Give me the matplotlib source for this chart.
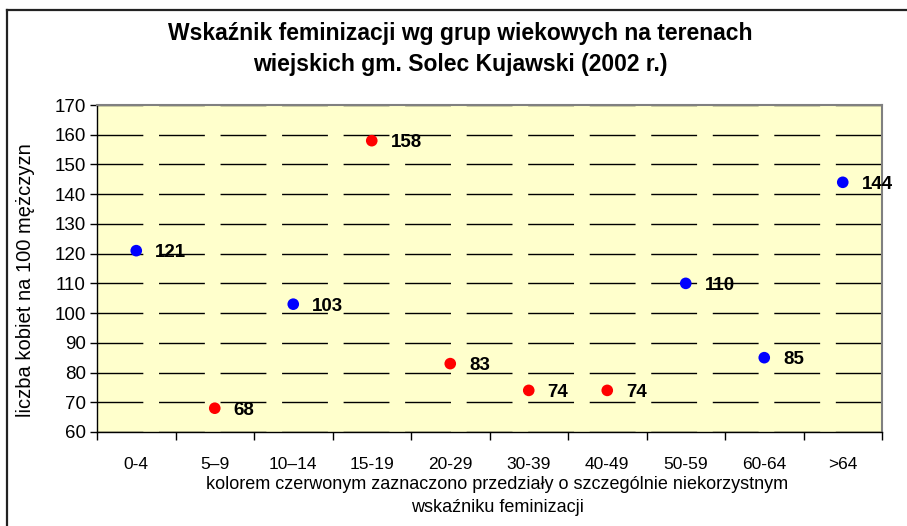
import matplotlib
matplotlib.use('Agg')
import matplotlib.pyplot as plt
import numpy as np
from matplotlib.lines import Line2D

plt.rcParams['font.family'] = ['Liberation Sans', 'DejaVu Sans']

# ---------- dane ----------
GROUPS = ['0-4', '5–9', '10–14', '15-19', '20-29', '30-39', '40-49', '50-59', '60-64', '>64']
VALUES = [121, 68, 103, 158, 83, 74, 74, 110, 85, 144]
BAD = [False, True, False, True, True, True, True, False, False, False]   # czerwone = niekorzystne
Y_TICKS = list(range(60, 171, 10))

TITLE = 'Wskaźnik feminizacji wg grup wiekowych na terenach\nwiejskich gm. Solec Kujawski (2002 r.)'
YLABEL = 'liczba kobiet na 100 mężczyzn'
XLABEL = 'kolorem czerwonym zaznaczono przedziały o szczególnie niekorzystnym\nwskaźniku feminizacji'

# ---------- rysunek ----------
fig = plt.figure(figsize=(9.07, 5.26), dpi=100)
ax = fig.add_axes([97 / 907, 1 - 432 / 526, 785 / 907, 327 / 526])
ax.set_facecolor('#FFFFCC')

x = np.arange(len(GROUPS))
colors = ['#FF0000' if b else '#0000FF' for b in BAD]
ax.scatter(x, VALUES, s=70, c=colors, zorder=3, linewidths=0)
for xi, v in zip(x, VALUES):
    ax.annotate(str(v), (xi, v), textcoords='offset points', xytext=(13.5, -1.5),
                ha='left', va='center', fontsize=13.5, fontweight='bold', zorder=4)

ax.set_xlim(-0.5, len(GROUPS) - 0.5)
ax.set_ylim(60, 170)
ax.set_yticks(Y_TICKS)
ax.tick_params(axis='y', labelsize=13.5, length=5, width=1, pad=3)

# kreski podziału między kategoriami, etykiety w środku
ax.set_xticks(np.arange(-0.5, len(GROUPS), 1.0))
ax.set_xticklabels([])
ax.set_xticks(x, minor=True)
ax.set_xticklabels(GROUPS, minor=True)
ax.tick_params(axis='x', which='major', length=6, width=1)
ax.tick_params(axis='x', which='minor', length=0, labelsize=12.5, pad=18)

# przerywane linie siatki
ax.yaxis.grid(True, color='black', linewidth=1, linestyle=(0, (33, 11.3)))
ax.set_axisbelow(True)

for s in ('top', 'right'):
    ax.spines[s].set_color('#808080')
    ax.spines[s].set_linewidth(1.5)
for s in ('left', 'bottom'):
    ax.spines[s].set_color('black')
    ax.spines[s].set_linewidth(1)

fig.text(460 / 907, 1 - 49 / 526, TITLE, ha='center', va='center', fontsize=16.5,
         fontweight='bold', linespacing=1.4)
fig.text(26 / 907, 1 - 280 / 526, YLABEL, ha='center', va='center', rotation=90, fontsize=14.5)
fig.text(497 / 907, 1 - 496 / 526, XLABEL, ha='center', va='center', fontsize=13,
         linespacing=1.5)

# ramka wykresu
fig.add_artist(Line2D([6.5 / 907, 6.5 / 907], [0, 1 - 9.5 / 526], transform=fig.transFigure,
                      color='#222222', linewidth=1.6))
fig.add_artist(Line2D([6.5 / 907, 1], [1 - 9.5 / 526, 1 - 9.5 / 526], transform=fig.transFigure,
                      color='#222222', linewidth=1.6))

fig.savefig('out.png', dpi=100)
